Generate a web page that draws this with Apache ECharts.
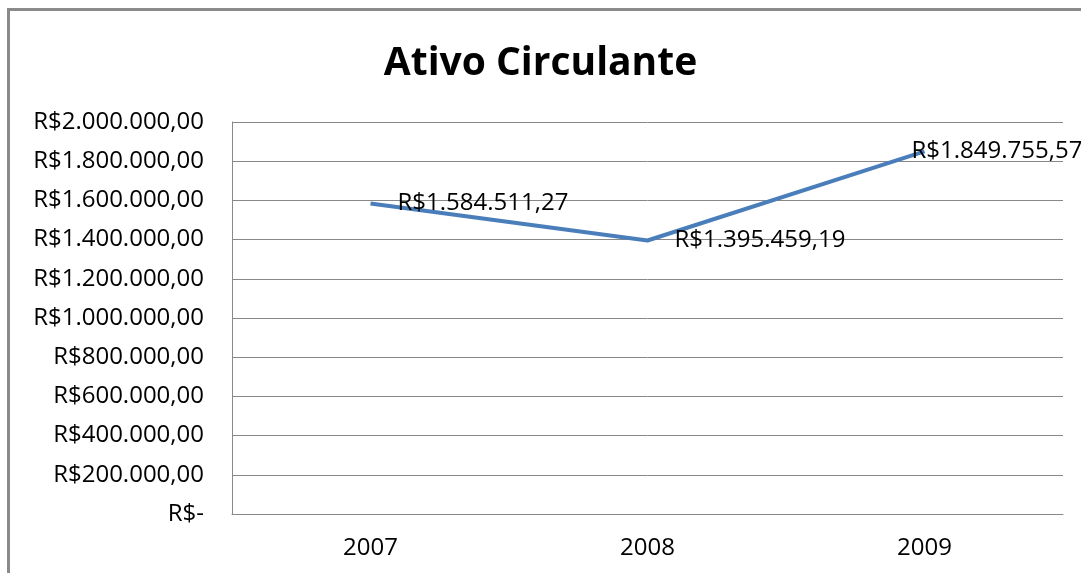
<!DOCTYPE html>
<html>
<head>
<meta charset="utf-8">
<script src="https://cdn.jsdelivr.net/npm/echarts@6/dist/echarts.min.js"></script>
<style>
  html, body { margin: 0; padding: 0; background: #fff; }
  #chart { width: 1081px; height: 573px; }
</style>
</head>
<body>
<div id="chart"></div>
<script>
const years = ['2007', '2008', '2009'];
const ativo = [1584511.27, 1395459.19, 1849755.57];

const brl = (v) => {
  if (v === 0) return 'R$-';
  const [int, dec] = v.toFixed(2).split('.');
  return 'R$' + int.replace(/\B(?=(\d{3})+(?!\d))/g, '.') + ',' + dec;
};

const font = '"Open Sans", sans-serif';
const chart = echarts.init(document.getElementById('chart'));

chart.setOption({
  animation: false,
  graphic: [{
    type: 'rect',
    shape: { x: 8.5, y: 9.5, width: 1090, height: 600 },
    style: { fill: 'none', stroke: '#8a8a8a', lineWidth: 3 },
    silent: true
  }],
  title: {
    text: 'Ativo Circulante',
    left: 'center',
    top: 39,
    textStyle: { fontFamily: font, fontSize: 39, fontWeight: 'bold', color: '#000' }
  },
  grid: { left: 232, right: 18, top: 122, bottom: 59, containLabel: false },
  xAxis: {
    type: 'category',
    data: years,
    axisLine: { lineStyle: { color: '#888', width: 1 } },
    axisTick: { show: false },
    axisLabel: { fontFamily: font, fontSize: 24, color: '#000', margin: 22 }
  },
  yAxis: {
    type: 'value',
    min: 0,
    max: 2000000,
    interval: 200000,
    axisLine: { show: true, lineStyle: { color: '#888', width: 1 } },
    axisTick: { show: false },
    splitLine: { lineStyle: { color: '#888', width: 1 } },
    axisLabel: { fontFamily: font, fontSize: 24, color: '#000', margin: 28, formatter: brl }
  },
  series: [{
    type: 'line',
    data: ativo.map((v, i) => ({
      value: v,
      label: i === 2 ? { distance: -14 } : {}
    })),
    symbol: 'circle',
    symbolSize: 2,
    showSymbol: true,
    itemStyle: { color: 'rgba(0,0,0,0)', borderWidth: 0 },
    lineStyle: { color: '#4a7ebb', width: 4 },
    label: {
      show: true,
      position: 'right',
      distance: 26,
      offset: [0, 2],
      fontFamily: font,
      fontSize: 24,
      color: '#000',
      formatter: (p) => brl(p.value)
    },
    labelLayout: { hideOverlap: false }
  }]
});
</script>
</body>
</html>
